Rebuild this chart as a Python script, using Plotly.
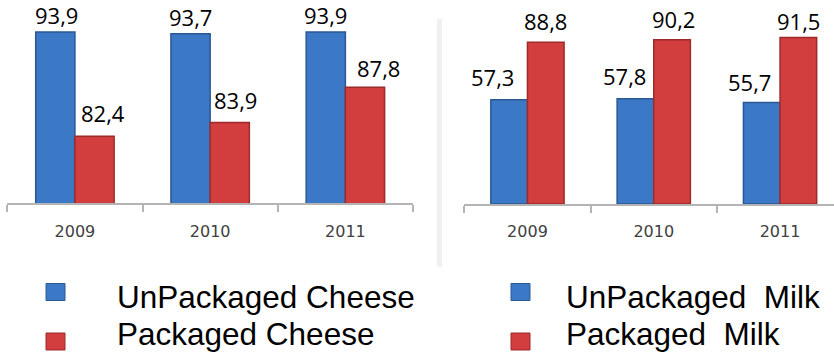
import plotly.graph_objects as go

# --- data -------------------------------------------------------------
years = ["2009", "2010", "2011"]
cheese_unpackaged = [93.9, 93.7, 93.9]
cheese_packaged = [82.4, 83.9, 87.8]
milk_unpackaged = [57.3, 57.8, 55.7]
milk_packaged = [88.8, 90.2, 91.5]

legend_cheese = ["UnPackaged Cheese", "Packaged Cheese"]
legend_milk = ["UnPackaged\u00a0 Milk", "Packaged\u00a0 Milk"]

# --- label nudges (pixels): horizontal shift, gap above bar ----------
cheese_unpk_dx, cheese_unpk_gap = [1, 0, 0], [8.4, 8.3, 8.4]
cheese_pk_dx, cheese_pk_gap = [8, 5.5, 13.5], [15, 14.6, 11]
milk_unpk_dx, milk_unpk_gap = [-17, -11, -12], [15, 14.3, 13]
milk_pk_dx, milk_pk_gap = [0, 1, 0], [13, 12.3, 8.7]

# --- styles -----------------------------------------------------------
W, H = 834, 352
BLUE, BLUE_EDGE = "#3b78c6", "#2b5895"
RED, RED_EDGE = "#d23d3d", "#9e2b2b"
AXIS_GRAY = "#b4b4b4"
BARGAP = 0.42
HALF = (1 - BARGAP) / 4  # distance from category centre to a bar centre
LABEL_FONT = dict(family="Open Sans", size=22, color="black")
LEGEND_FONT = dict(family="Liberation Sans", size=31.5, color="black")

fig = go.Figure()


def add_pair(xa, ya, unpk, pk, names):
    fig.add_trace(go.Bar(x=years, y=unpk, name=names[0], xaxis=xa, yaxis=ya,
                         marker=dict(color=BLUE, line=dict(color=BLUE_EDGE, width=1.5)),
                         showlegend=False, hoverinfo="skip"))
    fig.add_trace(go.Bar(x=years, y=pk, name=names[1], xaxis=xa, yaxis=ya,
                         marker=dict(color=RED, line=dict(color=RED_EDGE, width=1.5)),
                         showlegend=False, hoverinfo="skip"))


add_pair("x", "y", cheese_unpackaged, cheese_packaged, legend_cheese)
add_pair("x2", "y2", milk_unpackaged, milk_packaged, legend_milk)


def fmt(v):
    return f"{v:.1f}".replace(".", ",")


annotations = []


def add_labels(xr, yr, values, side, dxs, gaps):
    for i, (v, dx, g) in enumerate(zip(values, dxs, gaps)):
        annotations.append(dict(
            x=i + side * HALF, y=v, xref=xr, yref=yr, text=fmt(v),
            showarrow=False, xanchor="center", yanchor="middle",
            xshift=dx, yshift=g + 8, font=LABEL_FONT))


add_labels("x", "y", cheese_unpackaged, -1, cheese_unpk_dx, cheese_unpk_gap)
add_labels("x", "y", cheese_packaged, 1, cheese_pk_dx, cheese_pk_gap)
add_labels("x2", "y2", milk_unpackaged, -1, milk_unpk_dx, milk_unpk_gap)
add_labels("x2", "y2", milk_packaged, 1, milk_pk_dx, milk_pk_gap)

# legend texts and swatches
shapes = []


def px_x(p):
    return p / W


def px_y(p):
    return 1 - p / H


legend_rows = [(297.2, 283.5, 300.5, BLUE, BLUE_EDGE), (333.6, 333.0, 350.0, RED, RED_EDGE)]
for texts, tx, sx0 in ((legend_cheese, 115, 46), (legend_milk, 564, 511)):
    for txt, (ty, sy0, sy1, col, edge) in zip(texts, legend_rows):
        annotations.append(dict(
            x=px_x(tx), y=px_y(ty), xref="paper", yref="paper", text=txt,
            showarrow=False, xanchor="left", yanchor="middle", font=LEGEND_FONT))
        shapes.append(dict(type="rect", xref="paper", yref="paper",
                           x0=px_x(sx0), x1=px_x(sx0 + 19), y0=px_y(sy1), y1=px_y(sy0),
                           fillcolor=col, line=dict(color=edge, width=1)))

# light divider between the two panels
shapes.append(dict(type="rect", xref="paper", yref="paper", layer="below",
                   x0=px_x(437), x1=px_x(442), y0=px_y(267), y1=px_y(19),
                   fillcolor="#f0f0f0", line=dict(width=0)))

xaxis_common = dict(type="category", showline=True, linecolor=AXIS_GRAY, linewidth=2,
                    ticks="outside", tickson="boundaries", ticklen=7, tickwidth=1.5,
                    tickcolor=AXIS_GRAY, showgrid=False, zeroline=False,
                    tickfont=dict(family="DejaVu Sans", size=16, color="#404040"),
                    ticklabelstandoff=12, fixedrange=True)

fig.update_layout(
    width=W, height=H, margin=dict(l=0, r=0, t=0, b=0),
    paper_bgcolor="white", plot_bgcolor="rgba(0,0,0,0)",
    barmode="group", bargap=BARGAP, bargroupgap=0,
    xaxis=dict(domain=[px_x(7.3), px_x(413)], range=[-0.5, 2.5], anchor="y", **xaxis_common),
    yaxis=dict(domain=[px_y(203.3), 1], range=[75, 75 + 203.3 / 9.07], visible=False,
               fixedrange=True),
    xaxis2=dict(domain=[px_x(464.3), 1], range=[-0.5, -0.5 + (W - 464.3) / 126.3],
                anchor="y2", **xaxis_common),
    yaxis2=dict(domain=[px_y(204), 1], range=[0, 204 / 1.821], visible=False,
                fixedrange=True),
    annotations=annotations, shapes=shapes, showlegend=False,
)

fig.write_html("out.html", config={"displayModeBar": False})
